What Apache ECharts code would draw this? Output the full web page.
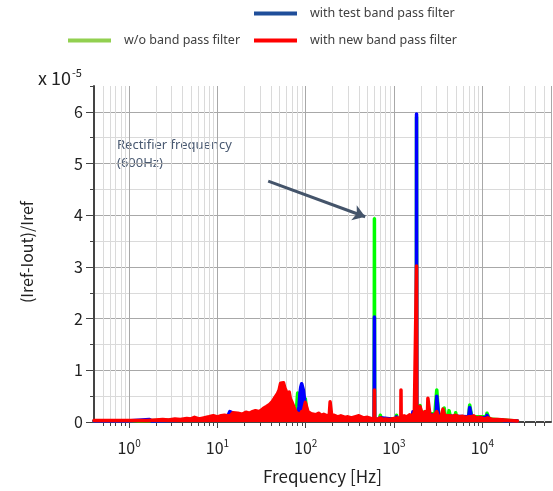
<!DOCTYPE html>
<html>
<head>
<meta charset="utf-8">
<script src="https://cdn.jsdelivr.net/npm/echarts@6/dist/echarts.min.js"></script>
<style>
  html, body { margin: 0; padding: 0; background: #fff; }
  #chart { width: 553px; height: 491px; }
</style>
</head>
<body>
<div id="chart"></div>
<script>
// [frequency Hz, (Iref-Iout)/Iref in 1e-5]
const woFilter = [
  [0.4, 0.02], [1, 0.02], [5, 0.04], [10, 0.06], [20, 0.08], [40, 0.1], [60, 0.1], [76, 0.12],
  [79, 0.3], [81, 0.56], [83, 0.58], [85, 0.5], [87, 0.25], [92, 0.2], [97, 0.3], [99, 0.45], [101, 0.42],
  [103, 0.2], [110, 0.1], [200, 0.08], [400, 0.06], [596, 0.05], [600, 3.93], [604, 0.05],
  [680, 0.05], [700, 0.13], [720, 0.05], [900, 0.05], [1050, 0.06], [1070, 0.13], [1090, 0.06],
  [1500, 0.08], [1790, 0.1], [1800, 5.9], [1810, 0.2], [1950, 0.2], [1970, 0.32], [2000, 0.2],
  [2900, 0.15], [3050, 0.62], [3120, 0.62], [3200, 0.15], [3600, 0.12], [3700, 0.27], [3800, 0.12],
  [4100, 0.1], [4200, 0.22], [4350, 0.1], [4900, 0.1], [5000, 0.18], [5100, 0.1], [7000, 0.1],
  [7200, 0.33], [7450, 0.33], [7600, 0.1], [11000, 0.1], [11300, 0.17], [11700, 0.17], [12000, 0.06],
  [20000, 0.03], [25000, 0.02]
];
const testFilter = [
  [0.4, 0.02], [0.95, 0.02], [1.0, 0.05], [1.7, 0.05], [1.8, 0.02], [5, 0.04], [10, 0.06], [13, 0.1],
  [13.8, 0.2], [14.6, 0.18], [15.5, 0.1], [30, 0.1], [60, 0.1], [80, 0.12], [84, 0.3], [86, 0.55],
  [88, 0.68], [90, 0.74], [92, 0.72], [94, 0.62], [96, 0.5], [98, 0.35], [100, 0.2], [120, 0.1],
  [300, 0.06], [596, 0.05], [600, 2.03], [604, 0.05], [650, 0.05], [700, 0.08], [720, 0.05],
  [1050, 0.05], [1070, 0.1], [1090, 0.05], [1600, 0.1], [1640, 0.2], [1680, 0.1], [1790, 0.15],
  [1800, 5.96], [1810, 0.2], [3000, 0.12], [3050, 0.5], [3120, 0.5], [3200, 0.12], [7000, 0.1],
  [7200, 0.28], [7450, 0.28], [7600, 0.08], [11000, 0.08], [11300, 0.13], [11700, 0.13], [12000, 0.05],
  [16500, 0.04], [17000, 0.07], [17500, 0.03], [25000, 0.02]
];
const newFilter = [
  [0.4, 0.03], [0.6, 0.03], [0.9, 0.03], [1.2, 0.03], [1.6, 0.03], [2.0, 0.04], [2.4, 0.05], [2.8, 0.04],
  [3.3, 0.06], [3.8, 0.05], [4.5, 0.07], [5.0, 0.06], [5.5, 0.09], [6.2, 0.06], [7.0, 0.08], [8.0, 0.1],
  [9.0, 0.12], [10, 0.1], [11, 0.12], [12, 0.13], [13, 0.12], [14, 0.12], [15, 0.18], [17, 0.17],
  [19, 0.15], [21, 0.19], [23, 0.17], [25, 0.2], [27, 0.22], [30, 0.2], [33, 0.26], [36, 0.3],
  [39, 0.34], [42, 0.4], [45, 0.48], [48, 0.55], [50, 0.62], [52, 0.75], [54, 0.72], [56, 0.76],
  [58, 0.66], [60, 0.6], [62, 0.52], [65, 0.58], [67, 0.45], [70, 0.38], [73, 0.3], [76, 0.22],
  [79, 0.18], [82, 0.15], [86, 0.14], [90, 0.2], [93, 0.16], [96, 0.28], [99, 0.38], [102, 0.3],
  [106, 0.2], [110, 0.22], [115, 0.16], [120, 0.19], [130, 0.14], [140, 0.17], [150, 0.13], [160, 0.15],
  [175, 0.12], [185, 0.14], [189, 0.39], [193, 0.39], [197, 0.12], [210, 0.13], [230, 0.1], [250, 0.12],
  [280, 0.09], [300, 0.1], [330, 0.08], [360, 0.1], [400, 0.12], [420, 0.11], [450, 0.08], [500, 0.09],
  [550, 0.07], [596, 0.06], [600, 0.62], [604, 0.07], [650, 0.05], [700, 0.08], [750, 0.05], [800, 0.06],
  [900, 0.05], [1000, 0.07], [1100, 0.08], [1194, 0.06], [1200, 0.62], [1206, 0.08], [1300, 0.12],
  [1400, 0.1], [1500, 0.14], [1600, 0.12], [1700, 0.18], [1790, 0.15], [1800, 3.02], [1810, 0.25],
  [1900, 0.22], [1970, 0.3], [2050, 0.2], [2150, 0.16], [2250, 0.2], [2390, 0.15], [2420, 0.46],
  [2470, 0.46], [2550, 0.14], [2700, 0.12], [2900, 0.15], [3050, 0.2], [3150, 0.12], [3400, 0.1],
  [3590, 0.25], [3640, 0.25], [3750, 0.12], [3900, 0.1], [4200, 0.12], [4600, 0.11], [5000, 0.13],
  [5500, 0.1], [6000, 0.11], [6500, 0.09], [7000, 0.1], [7400, 0.1], [8000, 0.12], [8500, 0.08],
  [9500, 0.09], [10500, 0.06], [11500, 0.08], [13000, 0.05], [15000, 0.05], [18000, 0.04],
  [21000, 0.03], [25000, 0.02]
];
// log-axis minor grid positions
const minorGridFreqs = [
  0.5, 0.6, 0.7, 0.8, 0.9,
  2, 3, 4, 5, 6, 7, 8, 9,
  20, 30, 40, 50, 60, 70, 80, 90,
  200, 300, 400, 500, 600, 700, 800, 900,
  2000, 3000, 4000, 5000, 6000, 7000, 8000, 9000,
  20000, 30000, 40000, 50000
];

const names = ['w/o band pass filter', 'with test band pass filter', 'with new band pass filter'];
const lineColors = ['#00ff00', '#0000ff', '#ff0000'];
const legendColors = ['#92d050', '#1f4e9a', '#ff0000'];

const axisFont = 'Noto Sans CJK JP';
const textFont = 'Noto Sans';

const chart = echarts.init(document.getElementById('chart'));

// each series gets its own z so its area + line stack as one layer
function makeLine (i, data) {
  return {
    name: names[i],
    type: 'line',
    data: data,
    showSymbol: false,
    symbol: 'none',
    z: 3 + i,
    lineStyle: { color: lineColors[i], width: 3.5, join: 'round', cap: 'round' },
    itemStyle: { color: lineColors[i] },
    areaStyle: { color: lineColors[i], opacity: 1 }
  };
}

function makeLegend (i, left, top) {
  return {
    left: left,
    top: top,
    padding: 0,
    icon: 'rect',
    itemWidth: 43,
    itemHeight: 4,
    selectedMode: false,
    data: [{ name: names[i], itemStyle: { color: legendColors[i] } }],
    textStyle: { fontSize: 12.5, color: '#404040', fontFamily: textFont, padding: [0, 0, 0, 8] }
  };
}

const redSeries = makeLine(2, newFilter);
redSeries.markLine = {
  silent: true,
  symbol: ['none', 'arrow'],
  symbolSize: 12,
  lineStyle: { color: '#44546a', width: 3, type: 'solid' },
  label: { show: false },
  data: [[{ coord: [37.6, 4.66] }, { coord: [472, 3.97] }]]
};

const option = {
  animation: false,
  backgroundColor: '#fff',
  legend: [
    makeLegend(1, 254, 7),
    makeLegend(0, 68, 34),
    makeLegend(2, 254, 34)
  ],
  grid: { left: 94, right: 2, top: 86, bottom: 69 },
  xAxis: {
    type: 'log',
    logBase: 10,
    min: 0.4,
    max: 60000,
    axisLine: { lineStyle: { color: '#444', width: 2 } },
    axisTick: { length: 6, lineStyle: { color: '#444' } },
    axisLabel: {
      margin: 16,
      showMinLabel: false,
      showMaxLabel: false,
      formatter: function (v) {
        return '{b|10}{s|' + Math.round(Math.log10(v)) + '}';
      },
      rich: {
        b: { fontSize: 16, fontFamily: axisFont, color: '#222' },
        s: { fontSize: 10, fontFamily: axisFont, color: '#222', padding: [0, 0, 10, 0] }
      }
    },
    splitLine: { show: true, lineStyle: { color: '#a8a8a8', width: 1 } },
    name: 'Frequency [Hz]',
    nameLocation: 'middle',
    nameGap: 46,
    nameTextStyle: { fontSize: 17, fontFamily: axisFont, color: '#222' }
  },
  yAxis: [
    {
      type: 'value',
      min: 0,
      max: 6.5,
      interval: 1,
      axisLine: { show: true, lineStyle: { color: '#444', width: 2 } },
      axisTick: { show: true, length: 8, lineStyle: { color: '#444' } },
      axisLabel: { margin: 11, showMaxLabel: false, fontSize: 16, fontFamily: axisFont, color: '#222' },
      splitLine: { show: false }
    },
    {
      type: 'value',
      min: 0,
      max: 6.5,
      interval: 0.5,
      position: 'left',
      axisLine: { show: false },
      axisTick: { show: true, length: 4, lineStyle: { color: '#444' } },
      axisLabel: { show: false },
      splitLine: { show: true, showMaxLine: false, lineStyle: { color: ['#a8a8a8', '#dadada'], width: 1 } }
    }
  ],
  graphic: [
    {
      type: 'text', left: 38, top: 67,
      style: {
        text: '{a|x 10}{b|-5}',
        rich: {
          a: { fontSize: 18, fontFamily: axisFont, fill: '#222' },
          b: { fontSize: 11, fontFamily: axisFont, fill: '#222', padding: [0, 0, 11, 1] }
        }
      }
    },
    {
      type: 'text', x: 27, y: 252, rotation: Math.PI / 2,
      style: {
        text: '(Iref-Iout)/Iref', fontSize: 16, fontFamily: axisFont, fill: '#222',
        align: 'center', verticalAlign: 'middle'
      }
    },
    {
      type: 'text', left: 117, top: 136,
      style: {
        text: 'Rectifier frequency\n(600Hz)', fontSize: 13, lineHeight: 18,
        fontFamily: textFont, fill: '#4a5a72'
      }
    }
  ],
  series: [
    {
      type: 'custom',
      silent: true,
      clip: false,
      z: 1,
      data: minorGridFreqs.map(function (f) { return [f, 0]; }),
      renderItem: function (params, api) {
        const p = api.coord([api.value(0), 0]);
        const cs = params.coordSys;
        const x = Math.round(p[0]) + 0.5;
        return {
          type: 'group',
          children: [
            { type: 'line', shape: { x1: x, y1: cs.y, x2: x, y2: cs.y + cs.height }, style: { stroke: '#dadada', lineWidth: 1 } },
            { type: 'line', shape: { x1: x, y1: cs.y + cs.height, x2: x, y2: cs.y + cs.height + 4 }, style: { stroke: '#444', lineWidth: 1 } }
          ]
        };
      }
    },
    makeLine(0, woFilter),
    makeLine(1, testFilter),
    redSeries
  ]
};

chart.setOption(option);
</script>
</body>
</html>
